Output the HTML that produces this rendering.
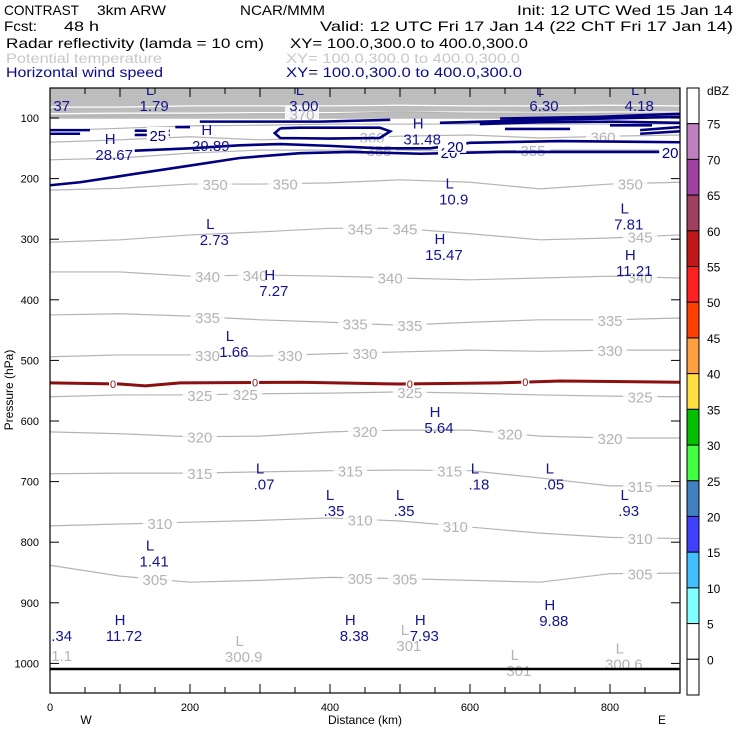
<!DOCTYPE html>
<html><head><meta charset="utf-8"><style>
html,body{margin:0;padding:0;background:#fff;}
svg{display:block;font-family:"Liberation Sans",sans-serif;}
</style></head><body>
<svg id="chart" width="740" height="740" viewBox="0 0 740 740" xmlns="http://www.w3.org/2000/svg">
<g font-size="14">
<text x="4" y="15" textLength="75" lengthAdjust="spacingAndGlyphs">CONTRAST</text>
<text x="97" y="15" textLength="69" lengthAdjust="spacingAndGlyphs">3km ARW</text>
<text x="240" y="15" textLength="85" lengthAdjust="spacingAndGlyphs">NCAR/MMM</text>
<text x="517" y="15" textLength="216" lengthAdjust="spacingAndGlyphs">Init: 12 UTC Wed 15 Jan 14</text>
<text x="4" y="31" textLength="33" lengthAdjust="spacingAndGlyphs">Fcst:</text>
<text x="64" y="31" textLength="35" lengthAdjust="spacingAndGlyphs">48 h</text>
<text x="320" y="31" textLength="413" lengthAdjust="spacingAndGlyphs">Valid: 12 UTC Fri 17 Jan 14 (22 ChT Fri 17 Jan 14)</text>
<text x="6" y="48" textLength="258" lengthAdjust="spacingAndGlyphs">Radar reflectivity (lamda = 10 cm)</text>
<text x="290" y="48" textLength="238" lengthAdjust="spacingAndGlyphs">XY= 100.0,300.0 to 400.0,300.0</text>
<text x="6" y="63" fill="#c8c8c8" textLength="156" lengthAdjust="spacingAndGlyphs">Potential temperature</text>
<text x="286" y="63" fill="#c8c8c8" textLength="234" lengthAdjust="spacingAndGlyphs">XY= 100.0,300.0 to 400.0,300.0</text>
<text x="6" y="77" fill="#0a0a8a" textLength="157" lengthAdjust="spacingAndGlyphs">Horizontal wind speed</text>
<text x="286" y="77" fill="#0a0a8a" textLength="236" lengthAdjust="spacingAndGlyphs">XY= 100.0,300.0 to 400.0,300.0</text>
</g>
<defs><clipPath id="plotclip"><rect x="50" y="88" width="630" height="605"/></clipPath></defs>
<g id="plot" clip-path="url(#plotclip)"></g>
<g id="axes"></g>
<g id="cbar"></g>
</svg>
<script>
// ---- data ----
const xGridKm = [0,100,200,300,400,500,600,700,800,900];
const thetaLevels = [380,375,370,365,360,355,350,345,340,335,330,325,320,315,310,305];
const thetaP = [
 [82,82,80,80,80,79,80,80,79,80],
 [93,92,92,91,91,90,90,91,90,90],
 [98,97,95,93,93,90,92,92,93,92],
 [121,117,113,112,110,110,110,110,110,110],
 [140,136,131,136,133,130,128,133,130,128],
 [169,166,158,153,153,153,155,153,153,153],
 [219,216,209,209,207,202,206,217,209,206],
 [305,301,293,288,282,282,291,301,298,293],
 [354,354,361,359,361,364,367,364,361,364],
 [425,423,427,433,437,442,437,433,433,430],
 [494,491,491,493,489,486,483,485,483,483],
 [560,557,557,555,554,552,554,557,559,560],
 [618,621,626,625,618,615,615,625,628,628],
 [687,686,686,684,682,681,682,694,707,707],
 [773,770,767,764,760,765,775,785,792,794],
 [838,856,866,863,858,860,863,866,852,851]
];
const thetaLabelKm = [[],[],[360],[],[460,790],[470,690],[236,336,829],[443,507,843],[225,293,486,843],[225,436,514,800],[225,343,450,800],[214,279,514,843],[214,450,657,800],[214,429,571,843],[157,443,579,843],[150,443,507,843]];
const pressureTicks = [100,200,300,400,500,600,700,800,900,1000];
const distanceTicks = [0,200,400,600,800];
const dbzLevels = [75,70,65,60,55,50,45,40,35,30,25,20,15,10,5,0];
const dbzColors = ["#ffffff","#c080c0","#a040a0","#a04060","#c01818","#ff2020","#ff4000","#ffa040","#ffe040","#00c000","#40ff40","#4080c0","#4040ff","#40c0ff","#80ffff","#ffffff","#ffffff"];
const windKm = [
 [0,43,100,186,271,357,429,529,643,900],
 [121,200,271,329,400,471,543,600,729,900],
 [0,57],[0,43],[121,171],[121,171],[179,200],
 [214,300,386,486],
 [329,357,400,471,486,471,400,329,321,329],
 [557,714,900],[643,786,900],[650,743],[614,700,800,900],[843,900],[843,900],[800,860]
];
const windP = [
 [211,206,196,181,166,158,156,159,156,156],
 [154,150,145,143,146,150,150,141,138,140],
 [120,120],[126,126],[121,121],[128,128],[115,115],
 [106,106,106,103],
 [117,116,116,116,122,133,134,133,125,117],
 [108,103,98],[101,98,93],[118,118],[110,107,106,108],[120,115],[126,122],[112,112]
];
const windLabels = [["25",154,128],["20",570,156],["20",886,156],["20",579,146]];
const refP = [537,539,542,537,536,539,537,534,536,536];
const refKm = [0,100,136,186,357,500,643,729,900,900];
const refLabelKm = [90,293,514,679];
const hlMarks = [
 ["L","1.79",143,62],["","37",11,62],["L","3.00",357,62],["L","6.30",700,62],["L","4.18",836,62],
 ["H","28.67",86,143],["H","29.89",224,128],["H","31.48",526,117],
 ["L","10.9",571,216],["L","2.73",229,283],["L","7.81",821,258],["H","15.47",557,308],["H","11.21",829,334],
 ["H","7.27",314,367],["L","1.66",257,468],["H","5.64",550,593],
 ["L",".07",300,687],["L",".35",400,730],["L",".35",500,730],["L",".18",607,687],["L",".05",714,687],["L",".93",821,730],
 ["L","1.41",143,814],["H","11.72",100,937],["",".34",11,937],["H","8.38",429,937],["H","7.93",529,937],["H","9.88",714,912]
];
const thetaMarks = [["L","300.9",271,971],["L","301",507,953],["L","301",664,994],["L","300.6",814,984],["","1.1",11,970]];
// ---- scales ----
const X0=50,X1=680,Y0=88,Y1=693;
const xs = km => X0 + km*(X1-X0)/900;
const ys = p => 118 + (p-100)*0.606;
const NS="http://www.w3.org/2000/svg";
function mk(tag,attrs,parent){const e=document.createElementNS(NS,tag);for(const k in attrs)e.setAttribute(k,attrs[k]);parent.appendChild(e);return e;}
const plot=document.getElementById('plot'),axes=document.getElementById('axes'),cbar=document.getElementById('cbar');
function interp(arrX,arrY,x){for(let i=0;i<arrX.length-1;i++){if(x>=arrX[i]&&x<=arrX[i+1]){const t=(x-arrX[i])/(arrX[i+1]-arrX[i]||1);return arrY[i]+t*(arrY[i+1]-arrY[i]);}}return arrY[arrY.length-1];}
// top gray band
const band=mk('rect',{x:X0,y:Y0,width:630,height:ys(thetaP[2][0])-Y0+2,fill:'#bdbdbd'},plot);


// theta contours
thetaLevels.forEach((lev,i)=>{
  const pts=xGridKm.map((k,j)=>xs(k)+','+ys(thetaP[i][j])).join(' ');
  const l=mk('polyline',{points:pts,fill:'none',stroke:i<2?'#ffffff':'#b4b4b4','stroke-width':1.2},plot);
  
  
  thetaLabelKm[i].forEach(k=>{
    const y=ys(interp(xGridKm,thetaP[i],k));
    const bg=mk('rect',{x:xs(k)-17,y:y-8,width:34,height:15,fill:'#fff','fill-opacity':0.85},plot);
    
    
    const t=mk('text',{x:xs(k),y:y+6,'text-anchor':'middle','font-size':15,fill:'#b4b4b4'},plot);
    
    
    t.textContent=lev;
  });
});
// reflectivity 0 dBZ contour
{const pts=refKm.map((k,j)=>xs(k)+','+ys(refP[j])).join(' ');
const l=mk('polyline',{points:pts,fill:'none',stroke:'#8c1010','stroke-width':3},plot);


refLabelKm.forEach(k=>{const y=ys(interp(refKm,refP,k));
 const bg=mk('rect',{x:xs(k)-4,y:y-5,width:8,height:10,fill:'#fff'},plot);
 
 
 const t=mk('text',{x:xs(k),y:y+4,'text-anchor':'middle','font-size':11,fill:'#8c1010'},plot);
 
 
 t.textContent='0';});}
// wind contours
windKm.forEach((ks,i)=>{
  const pts=ks.map((k,j)=>xs(k)+','+ys(windP[i][j])).join(' ');
  const l=mk('polyline',{points:pts,fill:'none',stroke:'#000080','stroke-width':2.6},plot);
  
  
});
windLabels.forEach(w=>{
  const bg=mk('rect',{x:xs(w[1])-11,y:ys(w[2])-8,width:22,height:15,fill:'#fff'},plot);
  
  
  const t=mk('text',{x:xs(w[1]),y:ys(w[2])+6,'text-anchor':'middle','font-size':15,fill:'#000080'},plot);
  
  
  t.textContent=w[0];
});
function hl(list,color,nm){list.forEach(m=>{
  const x=xs(m[2]),y=ys(m[3]);
  if(m[0]){const a=mk('text',{x:x,y:y,'text-anchor':'middle','font-size':15,fill:color},plot);
   
   
   a.textContent=m[0];}
  const b=mk('text',{x:x+4,y:y+16,'text-anchor':'middle','font-size':15,fill:color},plot);
  
  
  b.textContent=m[1];
});}
hl(hlMarks,'#141490','wind-extremum');
hl(thetaMarks,'#b4b4b4','theta-extremum');
// surface line
{const s=mk('line',{x1:X0,x2:X1,y1:669,y2:669,stroke:'#000','stroke-width':2.5},plot);

}
// frame and ticks
{const f=mk('rect',{x:X0,y:Y0,width:X1-X0,height:Y1-Y0,fill:'none',stroke:'#000','stroke-width':1.2},axes);

}
for(let k=0;k<=900;k+=50){const x=xs(k),len=k%100===0?9:6;
 const t1=mk('line',{x1:x,x2:x,y1:Y1,y2:Y1-len,stroke:'#000'},axes);
 
 
 const t2=mk('line',{x1:x,x2:x,y1:Y0,y2:Y0+len,stroke:'#000'},axes);
 
 }
distanceTicks.forEach(k=>{const t=mk('text',{x:xs(k),y:711,'text-anchor':'middle','font-size':11},axes);
 
 
 t.textContent=k;});
pressureTicks.forEach(p=>{const y=ys(p);
 const a=mk('line',{x1:X0,x2:X0+9,y1:y,y2:y,stroke:'#000'},axes);
 
 
 const b=mk('line',{x1:X1,x2:X1-9,y1:y,y2:y,stroke:'#000'},axes);
 
 
 const t=mk('text',{x:39,y:y+4,'text-anchor':'end','font-size':11},axes);
 
 
 t.textContent=p;});
{const t=mk('text',{x:13,y:390,'text-anchor':'middle','font-size':12,transform:'rotate(-90 13 390)'},axes);


t.textContent='Pressure (hPa)';
const d=mk('text',{x:365,y:724,'text-anchor':'middle','font-size':12},axes);


d.textContent='Distance (km)';
const w=mk('text',{x:86,y:724,'text-anchor':'middle','font-size':12},axes);


w.textContent='W';
const e=mk('text',{x:662,y:724,'text-anchor':'middle','font-size':12},axes);


e.textContent='E';}
// colorbar
const CB0=88,CB1=695,step=(CB1-CB0)/dbzColors.length;
dbzColors.forEach((c,i)=>{const r=mk('rect',{x:687,y:CB0+i*step,width:12,height:step,fill:c,stroke:'#000','stroke-width':1},cbar);
 
 });
dbzLevels.forEach((v,i)=>{const t=mk('text',{x:707,y:CB0+(i+1)*step+5,'font-size':12},cbar);
 
 
 t.textContent=v;});
{const t=mk('text',{x:707,y:95,'font-size':12},cbar);


t.textContent='dBZ';}
</script>
</body></html>
